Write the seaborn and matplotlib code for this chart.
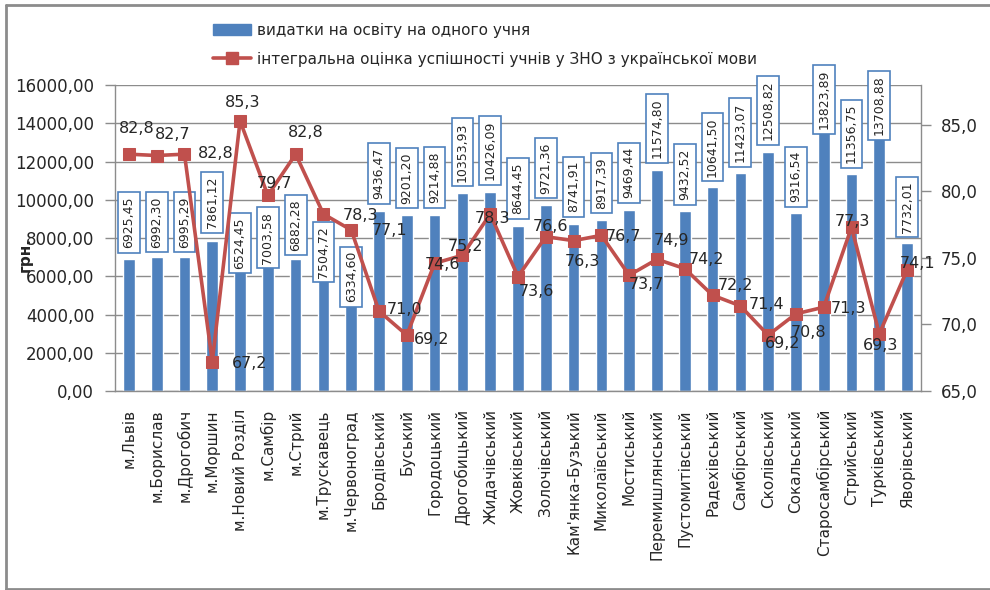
import numpy as np
import pandas as pd
import seaborn as sns
import matplotlib.pyplot as plt
from matplotlib.patches import Patch
from matplotlib.lines import Line2D

districts = ['м.Львів', 'м.Борислав', 'м.Дрогобич', 'м.Моршин', 'м.Новий Розділ',
             'м.Самбір', 'м.Стрий', 'м.Трускавець', 'м.Червоноград', 'Бродівський',
             'Буський', 'Городоцький', 'Дрогобицький', 'Жидачівський', 'Жовківський',
             'Золочівський', "Кам'янка-Бузький", 'Миколаївський', 'Мостиський',
             'Перемишлянський', 'Пустомитівський', 'Радехівський', 'Самбірський',
             'Сколівський', 'Сокальський', 'Старосамбірський', 'Стрийський',
             'Турківський', 'Яворівський']
spending = [6925.45, 6992.30, 6995.29, 7861.12, 6524.45, 7003.58, 6882.28, 7504.72,
            6334.60, 9436.47, 9201.20, 9214.88, 10353.93, 10426.09, 8644.45, 9721.36,
            8741.91, 8917.39, 9469.44, 11574.80, 9432.52, 10641.50, 11423.07, 12508.82,
            9316.54, 13823.89, 11356.75, 13708.88, 7732.01]
score = [82.8, 82.7, 82.8, 67.2, 85.3, 79.7, 82.8, 78.3, 77.1, 71.0, 69.2, 74.6, 75.2,
         78.3, 73.6, 76.6, 76.3, 76.7, 73.7, 74.9, 74.2, 72.2, 71.4, 69.2, 70.8, 71.3,
         77.3, 69.3, 74.1]

legend_labels = ['видатки на освіту на одного учня',
                 'інтегральна оцінка успішності учнів у ЗНО з української мови']

# where the labels sit (pixels from the marker / bar top), as they were moved in the original
score_dx = [8, 16, 31, 37, 3, 7, 10, 37, 38, 26, 25, 8, 3, 2, 18, 5, 9, 22, 17, 15,
            22, 23, 26, 14, 13, 25, 1, 1, 10]
score_dy = [26, 21, 1, -2, 18, 12, 22, -1, 0, 2, -4, -1, 9, -4, -15, 10, -21, -1, -9,
            19, 9, 10, 1, -8, -19, -1, 6, -12, 6]
box_gap = [6, 5, 5, 8, -7, -11, 4, -35, -37, 7, 7, 7, 7, 7, 7, 7, 7, 7, 7, 7,
           6, 6, 6, 7, 6, -7, 6, -11, 6]

blue = '#4F81BD'
red = '#C0504D'
grey = '#8c8c8c'

sns.set_theme(style='white')
plt.rcParams['font.family'] = ['DejaVu Sans']

df = pd.DataFrame({'district': districts, 'spending': spending, 'score': score})
df['pos'] = np.arange(len(df))

fig, ax = plt.subplots(figsize=(9.9, 5.9), dpi=100)
fig.subplots_adjust(left=115/990, right=921/990, top=1-85/590, bottom=1-391/590)

sns.barplot(data=df, x='district', y='spending', color=blue, saturation=1,
            width=0.42, ax=ax, zorder=2)
ax.set_xlim(-0.5, len(df) - 0.5)
ax.set_ylim(0, 16000)
yt = np.arange(0, 16001, 2000)
ax.set_yticks(yt)
ax.set_yticklabels([f'{v:.2f}'.replace('.', ',') for v in yt], fontsize=12)
ax.set_xticks(df['pos'])
ax.set_xticklabels(districts, rotation=90, va='top', ha='center', fontsize=11)
ax.set_xticks(np.arange(-0.5, len(df), 1), minor=True)
ax.tick_params(axis='x', which='major', length=0, pad=13)
ax.tick_params(axis='x', which='minor', length=7, color=grey, width=1, direction='out')
ax.tick_params(axis='y', length=7, color=grey, width=1, direction='out', left=True, pad=8)
ax.set_xlabel('')
ax.set_ylabel('')
ax.yaxis.grid(True, color=grey, linewidth=1)
ax.set_axisbelow(True)
for side in ['top', 'right']:
    ax.spines[side].set_visible(False)
for side in ['left', 'bottom']:
    ax.spines[side].set_color(grey)
    ax.spines[side].set_linewidth(1)

for i, v in enumerate(spending):
    ax.annotate(f'{v:.2f}'.replace('.', ','), (i, v), xytext=(0, box_gap[i] + 4.4),
                textcoords='offset pixels', rotation=90, ha='center', va='bottom',
                fontsize=9, zorder=5,
                bbox=dict(boxstyle='square,pad=0.35', fc='white', ec='#4F81BD', lw=1.2))

ax2 = ax.twinx()
sns.lineplot(data=df, x='pos', y='score', ax=ax2, color=red, linewidth=2.6,
             marker='s', markersize=9, markeredgecolor=red, legend=False)
ax2.set_ylim(65, 88)
rt = np.arange(65, 86, 5)
ax2.set_yticks(rt)
ax2.set_yticklabels([f'{v:.1f}'.replace('.', ',') for v in rt], fontsize=12)
ax2.tick_params(axis='y', length=7, color=grey, width=1, direction='out', right=True, pad=7)
ax2.set_ylabel('')
ax2.set_xlabel('')
ax2.grid(False)
for side in ['top', 'left', 'bottom']:
    ax2.spines[side].set_visible(False)
ax2.spines['right'].set_color(grey)
ax2.spines['right'].set_linewidth(1)

for i, s in enumerate(score):
    ax2.annotate(f'{s:.1f}'.replace('.', ','), (i, s), xytext=(score_dx[i], score_dy[i]),
                 textcoords='offset pixels', ha='center', va='center', fontsize=11.5)

fig.text(25/990, 1-255/590, 'грн.', rotation=90, ha='center', va='center',
         fontsize=11, fontweight='bold')

handles = [Patch(facecolor=blue, edgecolor=blue),
           Line2D([0], [0], color=red, linewidth=2.6, marker='s', markersize=9)]
fig.legend(handles, legend_labels, loc='upper left', bbox_to_anchor=(199/990, 1-9/590),
           frameon=False, fontsize=11, handlelength=2.5, handleheight=0.7,
           handletextpad=0.4, labelspacing=0.9)

# chart frame as in the original
fig.add_artist(Line2D([6/990, 6/990], [1-589/590, 1-5/590], transform=fig.transFigure,
                      color=grey, linewidth=2))
fig.add_artist(Line2D([6/990, 1], [1-5/590, 1-5/590], transform=fig.transFigure,
                      color=grey, linewidth=2))
fig.add_artist(Line2D([6/990, 1], [1-589/590, 1-589/590], transform=fig.transFigure,
                      color=grey, linewidth=2))

fig.savefig('out.png', dpi=100)
